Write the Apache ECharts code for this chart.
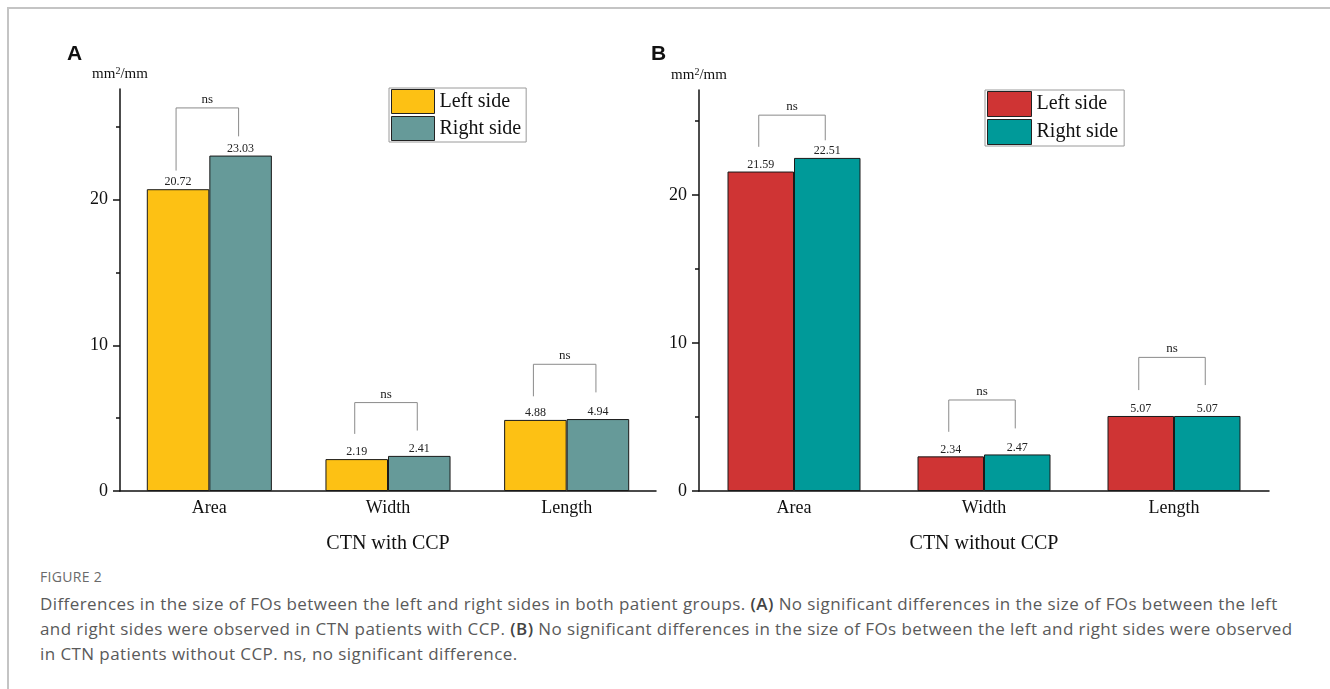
<!DOCTYPE html>
<html>
<head>
<meta charset="utf-8">
<script src="https://cdn.jsdelivr.net/npm/echarts@6/dist/echarts.min.js"></script>
<style>
  body { margin: 0; background: #fff; width: 1330px; height: 689px; overflow: hidden; position: relative; }
  #frame { position: absolute; left: 7px; top: 7px; width: 1321px; height: 700px; border: 2px solid #c4c4c4; box-sizing: content-box; }
  .chart { position: absolute; left: 0; top: 0; width: 1330px; height: 560px; }
  #caption { position: absolute; left: 40px; top: 567px; font-family: "Open Sans", sans-serif; color: #5a5a5a; white-space: nowrap; }
  #caption .fig { font-size: 14px; color: #6a6a6a; letter-spacing: 0.3px; margin-bottom: 5px; }
  #caption .txt { font-size: 17px; letter-spacing: 0.42px; line-height: 25px; }
  #caption b { font-weight: 600; color: #444; }
</style>
</head>
<body>
<div id="frame"></div>
<div id="chartA" class="chart"></div>
<div id="chartB" class="chart"></div>
<div id="caption">
  <div class="fig">FIGURE 2</div>
  <div class="txt">Differences in the size of FOs between the left and right sides in both patient groups. <b>(A)</b> No significant differences in the size of FOs between the left<br>and right sides were observed in CTN patients with CCP. <b>(B)</b> No significant differences in the size of FOs between the left and right sides were observed<br>in CTN patients without CCP. ns, no significant difference.</div>
</div>
<script type="text/javascript">
// data
var categories = ['Area', 'Width', 'Length'];
var seriesNames = ['Left side', 'Right side'];

var leftA = [20.72, 2.19, 4.88];
var rightA = [23.03, 2.41, 4.94];
var leftB = [21.59, 2.34, 5.07];
var rightB = [22.51, 2.47, 5.07];

// [category index, bracket top, left leg bottom, right leg bottom]
var bracketsA = [[0, 26.3, 22.0, 24.35], [1, 6.07, 3.92, 4.15], [2, 8.7, 6.5, 6.77]];
var bracketsB = [[0, 25.4, 23.26, 23.7], [1, 6.15, 4.0, 4.23], [2, 9.03, 6.82, 7.16]];

var majorTicks = [0, 10, 20];
var minorTicks = [5, 15, 25];

var serif = '"Liberation Serif", "Times New Roman", serif';

function bracketItem(params, api) {
    var idx = api.value(0);
    var band = api.size([1, 0])[0];
    var top = api.coord([idx, api.value(1)]);
    var off = band * 0.175;
    var x1 = top[0] - off - 2;
    var x2 = top[0] + off - 2;
    var yl = api.coord([idx, api.value(2)])[1];
    var yr = api.coord([idx, api.value(3)])[1];
    return {
        type: 'group',
        children: [
            {
                type: 'polyline',
                shape: { points: [[x1, yl], [x1, top[1]], [x2, top[1]], [x2, yr]] },
                style: { stroke: '#8a8a8a', lineWidth: 1, fill: null }
            },
            {
                type: 'text',
                x: (x1 + x2) / 2,
                y: top[1] - 2,
                style: {
                    text: 'ns', fill: '#222', font: '13px ' + serif,
                    align: 'center', verticalAlign: 'bottom',
                    textAlign: 'center', textVerticalAlign: 'bottom'
                }
            }
        ]
    };
}

function makeOption(p) {
    var barLabel = {
        show: true, position: 'top', distance: 1,
        fontFamily: serif, fontSize: 12, color: '#222',
        formatter: function (o) { return o.value.toFixed(2); }
    };
    return {
        animation: false,
        graphic: [{
            type: 'text', left: p.letterX, top: 44,
            style: { text: p.letter, font: 'bold 21px "Liberation Sans", Arial, sans-serif', fill: '#111' }
        }],
        legend: {
            orient: 'vertical',
            left: p.legend.left, top: p.legend.top,
            data: seriesNames,
            itemWidth: p.legend.w, itemHeight: p.legend.h, itemGap: 2,
            padding: p.legend.pad,
            borderColor: '#9a9a9a', borderWidth: 1,
            icon: 'rect',
            itemStyle: { borderColor: '#222', borderWidth: 1 },
            textStyle: { fontFamily: serif, fontSize: 20, color: '#111' },
            selectedMode: false
        },
        grid: { left: p.grid.left, top: p.grid.top, width: p.grid.width, height: p.grid.height },
        xAxis: {
            type: 'category',
            data: categories,
            name: p.xName,
            nameLocation: 'middle',
            nameGap: 43,
            nameTextStyle: { fontFamily: serif, fontSize: 20, color: '#111' },
            axisLine: { lineStyle: { color: '#111', width: 1.5 } },
            axisTick: { show: false },
            axisLabel: { fontFamily: serif, fontSize: 18, color: '#111', margin: 8 }
        },
        yAxis: [{
            type: 'value',
            min: 0, max: p.yMax,
            name: '{a|mm}{s|2}{a|/mm}',
            nameLocation: 'end',
            nameGap: 6,
            nameTextStyle: {
                align: 'center',
                rich: {
                    a: { fontFamily: serif, fontSize: 15, color: '#111', lineHeight: 17 },
                    s: { fontFamily: serif, fontSize: 10, color: '#111', verticalAlign: 'top', lineHeight: 17, padding: [0, 0, 6, 0] }
                }
            },
            axisLine: { show: true, lineStyle: { color: '#111', width: 1.5 } },
            axisTick: { show: true, length: 7, customValues: majorTicks, lineStyle: { color: '#111', width: 1.5 } },
            axisLabel: { customValues: majorTicks, fontFamily: serif, fontSize: 18, color: '#111', margin: 12 },
            splitLine: { show: false }
        }, {
            type: 'value',
            min: 0, max: p.yMax,
            position: 'left',
            axisLine: { show: false },
            axisTick: { show: true, length: 4, customValues: minorTicks, lineStyle: { color: '#111', width: 1.5 } },
            axisLabel: { show: false },
            splitLine: { show: false }
        }],
        series: [{
            name: seriesNames[0], type: 'bar', data: p.left,
            barGap: '0%', barCategoryGap: '30%',
            itemStyle: { color: p.colors[0], borderColor: '#1a1a1a', borderWidth: 1 },
            label: barLabel
        }, {
            name: seriesNames[1], type: 'bar', data: p.right,
            barGap: '0%', barCategoryGap: '30%',
            itemStyle: { color: p.colors[1], borderColor: '#1a1a1a', borderWidth: 1 },
            label: barLabel
        }, {
            type: 'custom',
            renderItem: bracketItem,
            data: p.brackets,
            encode: { x: 0, y: 1 },
            silent: true,
            z: 5
        }]
    };
}

var chartA = echarts.init(document.getElementById('chartA'));
chartA.setOption(makeOption({
    letter: 'A', letterX: 67,
    legend: { left: 389, top: 88, w: 43, h: 24, pad: [1, 5, 1, 2] },
    grid: { left: 120, top: 89, width: 536, height: 402 },
    yMax: 27.6,
    xName: 'CTN with CCP',
    left: leftA, right: rightA, brackets: bracketsA,
    colors: ['#fdc114', '#669a99']
}));

var chartB = echarts.init(document.getElementById('chartB'));
chartB.setOption(makeOption({
    letter: 'B', letterX: 651,
    legend: { left: 985, top: 90, w: 44, h: 25, pad: [1, 6, 1, 2] },
    grid: { left: 699, top: 90, width: 570, height: 401 },
    yMax: 27.1,
    xName: 'CTN without CCP',
    left: leftB, right: rightB, brackets: bracketsB,
    colors: ['#cf3434', '#009a99']
}));
</script>
</body>
</html>
